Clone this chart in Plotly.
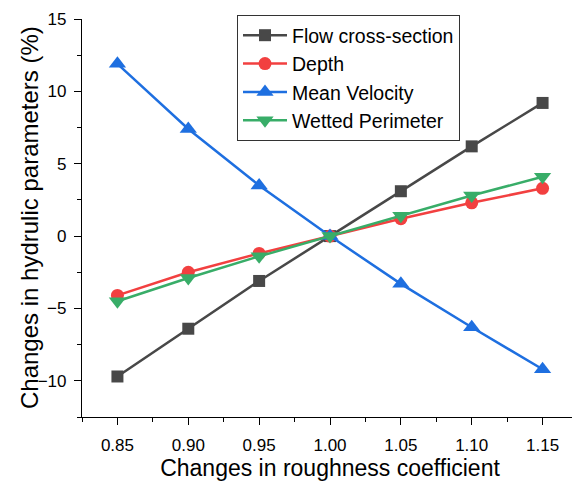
import plotly.graph_objects as go

x_vals = [0.85, 0.90, 0.95, 1.00, 1.05, 1.10, 1.15]
flow_cross_section = [-9.7, -6.4, -3.1, 0.0, 3.1, 6.2, 9.2]
depth = [-4.1, -2.5, -1.2, 0.0, 1.2, 2.3, 3.3]
mean_velocity = [11.9, 7.4, 3.5, 0.0, -3.3, -6.3, -9.2]
wetted_perimeter = [-4.5, -2.9, -1.4, 0.0, 1.4, 2.8, 4.1]
y_title = "Changes in hydrulic parameters (%)"
x_title = "Changes in roughness coefficient"

series = [
    ("Flow cross-section", flow_cross_section, "#484848", "square", 12),
    ("Depth", depth, "#f24040", "circle", 13),
    ("Mean Velocity", mean_velocity, "#1e6fe0", "triangle-up", 15),
    ("Wetted Perimeter", wetted_perimeter, "#38ad68", "triangle-down", 15),
]

fig = go.Figure()
for name, ys, color, sym, size in series:
    fig.add_trace(go.Scatter(
        x=x_vals, y=ys, name=name, mode="lines+markers",
        line=dict(color=color, width=2.5),
        marker=dict(symbol=sym, size=size, color=color),
    ))

font = "Liberation Sans, Arial, sans-serif"
fig.update_layout(
    width=572, height=473,
    margin=dict(l=74, r=2, t=11, b=64, autoexpand=False),
    plot_bgcolor="white", paper_bgcolor="white",
    font=dict(family=font, color="black"),
    showlegend=True,
    legend=dict(
        x=0.3125, y=1.01, xanchor="left", yanchor="top",
        bordercolor="#333", borderwidth=1, bgcolor="white",
        font=dict(size=19.5, family=font), tracegroupgap=0,
        itemwidth=44,
    ),
    xaxis=dict(
        range=[0.825, 1.175], tickvals=x_vals, automargin=False,
        ticktext=["0.85", "0.90", "0.95", "1.00", "1.05", "1.10", "1.15"],
        showgrid=False, zeroline=False, showline=True, linecolor="black", linewidth=1.2,
        ticks="outside", ticklen=7, tickwidth=1.2, tickcolor="black",
        tickfont=dict(size=17), ticklabelstandoff=5,
        minor=dict(dtick=0.05, tick0=0.825, ticks="outside", ticklen=4, tickwidth=1, tickcolor="black"),
        title=dict(text=x_title, font=dict(size=23), standoff=10),
    ),
    yaxis=dict(
        range=[-12.5, 15], tickvals=[-10, -5, 0, 5, 10, 15], automargin=False,
        showgrid=False, zeroline=False, showline=True, linecolor="black", linewidth=1.2,
        ticks="outside", ticklen=7, tickwidth=1.2, tickcolor="black",
        tickfont=dict(size=17), ticklabelstandoff=4,
        minor=dict(dtick=2.5, tick0=0, ticks="outside", ticklen=4, tickwidth=1, tickcolor="black"),
    ),
    annotations=[dict(
        text=y_title, textangle=-90, font=dict(size=24, family=font),
        xref="paper", yref="paper", x=0, y=0.5, xanchor="center", yanchor="middle",
        xshift=-53, showarrow=False,
    )],
)
fig.write_html("out.html")
